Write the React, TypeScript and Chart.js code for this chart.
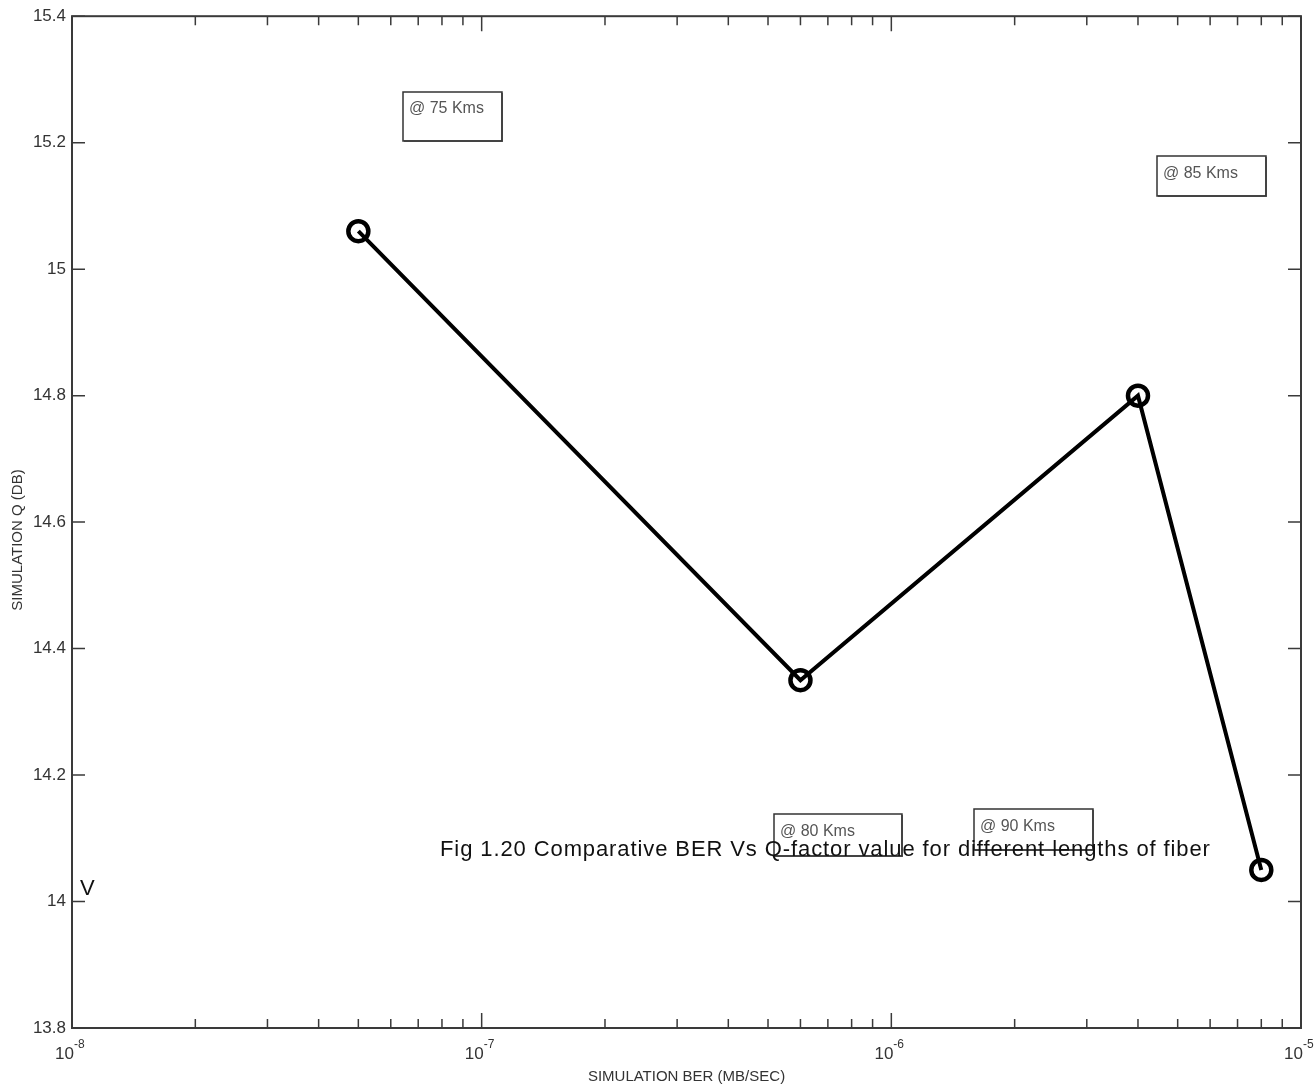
import React, { useEffect, useRef } from "react";
import { Chart, registerables } from "chart.js";

Chart.register(...registerables);

const berValues = [5e-8, 6e-7, 4e-6, 8e-6];
const qValues = [15.06, 14.35, 14.8, 14.05];
const yTicks = [13.8, 14.0, 14.2, 14.4, 14.6, 14.8, 15.0, 15.2, 15.4];
const xDecades = [-8, -7, -6, -5];
const boxLabels = ["@ 75 Kms", "@ 80 Kms", "@ 85 Kms", "@ 90 Kms"];
const caption = "Fig 1.20 Comparative BER Vs Q-factor value for different lengths of fiber";
const xTitle = "SIMULATION BER (MB/SEC)";
const yTitle = "SIMULATION Q (DB)";

const NARROW = '"Liberation Sans Narrow", "Arial Narrow", "Liberation Sans", Arial, sans-serif';
const SANS = '"Liberation Sans", Arial, sans-serif';

const framePlugin = {
  id: "framePlugin",
  afterDraw(chart: any) {
    const ctx = chart.ctx as CanvasRenderingContext2D;
    const { left, right, top, bottom } = chart.chartArea;
    const xs = chart.scales.x;
    const ys = chart.scales.y;
    ctx.save();
    // frame
    ctx.strokeStyle = "#3a3a3a";
    ctx.lineWidth = 2;
    ctx.strokeRect(left, top, right - left, bottom - top);
    // x ticks (log)
    ctx.lineWidth = 1.5;
    for (let i = 0; i < xDecades.length; i++) {
      const d = xDecades[i];
      const px = xs.getPixelForValue(Math.pow(10, d));
      ctx.beginPath();
      ctx.moveTo(px, bottom); ctx.lineTo(px, bottom - 15);
      ctx.moveTo(px, top); ctx.lineTo(px, top + 15);
      ctx.stroke();
      if (i < xDecades.length - 1) {
        for (let m = 2; m <= 9; m++) {
          const mx = xs.getPixelForValue(m * Math.pow(10, d));
          ctx.beginPath();
          ctx.moveTo(mx, bottom); ctx.lineTo(mx, bottom - 9);
          ctx.moveTo(mx, top); ctx.lineTo(mx, top + 9);
          ctx.stroke();
        }
      }
      // label 10^d
      ctx.fillStyle = "#333";
      ctx.font = `17px ${NARROW}`;
      ctx.textAlign = "right";
      ctx.textBaseline = "alphabetic";
      ctx.fillText("10", px + 2, bottom + 31);
      ctx.font = `12px ${NARROW}`;
      ctx.textAlign = "left";
      ctx.fillText(String(d), px + 2, bottom + 20);
    }
    // y ticks
    for (const v of yTicks) {
      const py = ys.getPixelForValue(v);
      ctx.beginPath();
      ctx.moveTo(left, py); ctx.lineTo(left + 13, py);
      ctx.moveTo(right, py); ctx.lineTo(right - 13, py);
      ctx.stroke();
    }
    // axis titles
    ctx.fillStyle = "#333";
    ctx.font = `15px ${NARROW}`;
    ctx.textAlign = "center";
    ctx.textBaseline = "middle";
    ctx.fillText(xTitle, (left + right) / 2, bottom + 49);
    ctx.save();
    ctx.translate(18, 540);
    ctx.rotate(-Math.PI / 2);
    ctx.fillText(yTitle, 0, 0);
    ctx.restore();

    // annotation boxes
    const boxes = [
      { x: 403, y: 92, w: 99, h: 49, ty: 109 },
      { x: 774, y: 814, w: 128, h: 42, ty: 832 },
      { x: 1157, y: 156, w: 109, h: 40, ty: 174 },
      { x: 974, y: 809, w: 119, h: 41, ty: 827 },
    ];
    boxes.forEach((b, i) => {
      ctx.strokeStyle = "#777";
      ctx.lineWidth = 2;
      ctx.beginPath();
      ctx.moveTo(b.x + b.w, b.y + 1);
      ctx.lineTo(b.x + b.w, b.y + b.h);
      ctx.lineTo(b.x + 1, b.y + b.h);
      ctx.stroke();
      ctx.strokeStyle = "#333";
      ctx.lineWidth = 1.5;
      ctx.strokeRect(b.x, b.y, b.w, b.h);
      ctx.fillStyle = "#555";
      ctx.font = `16px ${NARROW}`;
      ctx.textAlign = "left";
      ctx.textBaseline = "middle";
      ctx.fillText(boxLabels[i], b.x + 6, b.ty);
    });

    // caption
    ctx.fillStyle = "#111";
    ctx.font = `22px ${SANS}`;
    (ctx as any).letterSpacing = "0.9px";
    ctx.textAlign = "left";
    ctx.textBaseline = "alphabetic";
    ctx.fillText(caption, 440, 856);
    (ctx as any).letterSpacing = "0px";
    ctx.fillText("V", 80, 895);
    ctx.restore();
  },
};

export default function App() {
  const ref = useRef<HTMLCanvasElement>(null);
  useEffect(() => {
    if (!ref.current) return;
    const chart = new Chart(ref.current, {
      type: "line",
      data: {
        datasets: [
          {
            data: berValues.map((b, i) => ({ x: b, y: qValues[i] })),
            borderColor: "#000",
            borderWidth: 4,
            pointStyle: "circle",
            pointRadius: 10,
            pointBorderWidth: 4.5,
            pointBorderColor: "#000",
            pointBackgroundColor: "rgba(0,0,0,0)",
            tension: 0,
            fill: false,
          },
        ],
      },
      options: {
        animation: false,
        responsive: false,
        devicePixelRatio: 1,
        layout: { padding: { left: 0, top: 16, right: 15, bottom: 0 } },
        plugins: { legend: { display: false }, tooltip: { enabled: false } },
        scales: {
          x: {
            type: "logarithmic",
            min: 1e-8,
            max: 1e-5,
            grid: { display: false, drawTicks: false },
            border: { display: false },
            ticks: { display: false },
            afterFit: (s: any) => { s.height = 57; },
          },
          y: {
            type: "linear",
            min: 13.8,
            max: 15.4,
            grid: { display: false, drawTicks: false },
            border: { display: false },
            ticks: {
              stepSize: 0.2,
              padding: 6,
              color: "#333",
              font: { family: NARROW, size: 17 },
              callback: (v: any) => String(Math.round(Number(v) * 10) / 10),
            },
            afterFit: (s: any) => { s.width = 72; },
          },
        },
      },
      plugins: [framePlugin],
    });
    return () => chart.destroy();
  }, []);
  return (
    <div style={{ position: "absolute", left: 0, top: 0, width: 1316, height: 1085, background: "#fff" }}>
      <canvas ref={ref} width={1316} height={1085} style={{ display: "block", width: 1316, height: 1085 }} />
    </div>
  );
}
